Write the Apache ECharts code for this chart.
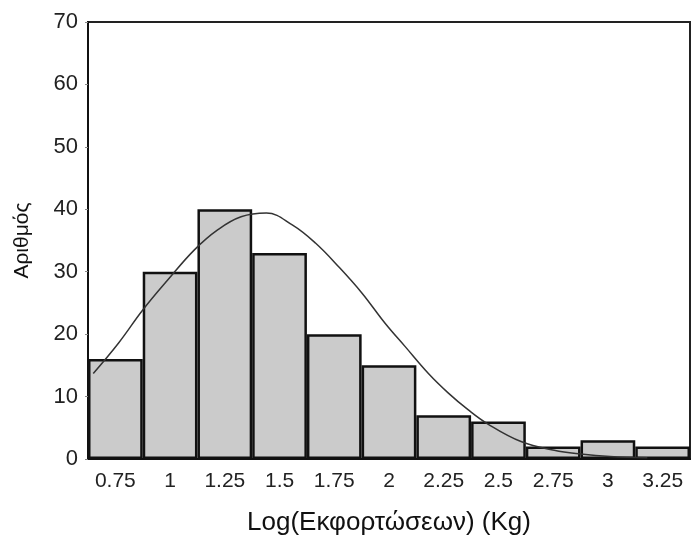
<!DOCTYPE html>
<html>
<head>
<meta charset="utf-8">
<script src="https://cdn.jsdelivr.net/npm/echarts@6/dist/echarts.min.js"></script>
<style>html,body{margin:0;padding:0;background:#fff}#c{width:694px;height:540px}</style>
</head>
<body>
<div id="c"></div>
<script>
var categories = ['0.75','1','1.25','1.5','1.75','2','2.25','2.5','2.75','3','3.25'];
var counts = [16,30,40,33,20,15,7,6,2,3,2];
var curveX = [0.649,0.763,0.876,0.99,1.111,1.217,1.324,1.44,1.558,1.664,1.77,1.876,1.983,2.074,2.18,2.27,2.361,2.452,2.603,2.755,2.876,3.01,3.18];
var curveY = [13.7,18.5,23.9,28.7,33.5,36.7,38.8,39.4,37.5,34.6,30.8,26.6,21.7,18.0,13.7,10.6,7.9,5.6,2.8,1.4,0.8,0.4,0.2];
var yTicks = {min:0,max:70,interval:10};
var xName = 'Log(Εκφορτώσεων) (Kg)';
var yName = 'Αριθμός';

var curveData = curveX.map(function(x,i){return [x,curveY[i]];});
var chart = echarts.init(document.getElementById('c'));
var font = 'Liberation Sans, Arial, sans-serif';
chart.setOption({
  animation:false,
  backgroundColor:'#fff',
  grid:{left:88,right:4,top:22,bottom:81,show:true,borderColor:'#222',borderWidth:2,outerBoundsMode:'none',containLabel:false},
  xAxis:[{
    type:'category',data:categories,boundaryGap:true,
    axisLine:{lineStyle:{color:'#111',width:2}},
    axisTick:{alignWithLabel:true,interval:0,length:4,lineStyle:{color:'#555'}},
    axisLabel:{interval:0,hideOverlap:false,color:'#222',fontSize:21,fontFamily:font,margin:12},
    name:xName,nameLocation:'middle',nameGap:51,
    nameTextStyle:{color:'#111',fontSize:26,fontFamily:font}
  },{
    type:'value',min:0.625,max:3.375,show:false
  }],
  yAxis:{
    type:'value',min:yTicks.min,max:yTicks.max,interval:yTicks.interval,
    axisLine:{show:true,lineStyle:{color:'#111',width:2}},
    axisTick:{show:true,length:3,lineStyle:{color:'#888'}},
    splitLine:{show:false},
    axisLabel:{color:'#222',fontSize:22,fontFamily:font,margin:10},
    name:yName,nameLocation:'middle',nameGap:55,nameRotate:90,
    nameTextStyle:{color:'#111',fontSize:21,fontFamily:font}
  },
  series:[{
    type:'bar',data:counts,xAxisIndex:0,barWidth:'100%',barCategoryGap:'0%',
    itemStyle:{color:'#cbcbcb',borderColor:'#111',borderWidth:2.5}
  },{
    type:'line',data:curveData,xAxisIndex:1,smooth:0.4,showSymbol:false,
    lineStyle:{color:'#333',width:1.5},z:5
  }]
});
</script>
</body>
</html>
